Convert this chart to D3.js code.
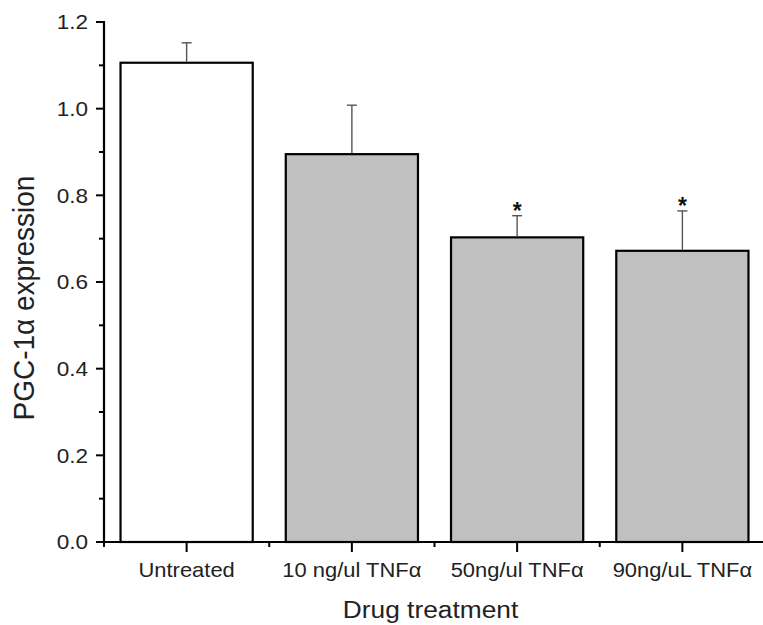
<!DOCTYPE html>
<html>
<head>
<meta charset="utf-8">
<script src="https://cdn.jsdelivr.net/npm/d3@7"></script>
<style>
  html, body { margin: 0; padding: 0; background: #fff; }
  svg { display: block; font-family: Arial, "Liberation Sans", sans-serif; }
</style>
</head>
<body>
<svg id="chart" width="763" height="625"></svg>
<script>
// ---- data ----
const categories = ["Untreated", "10 ng/ul TNF\u03b1", "50ng/ul TNF\u03b1", "90ng/uL TNF\u03b1"];
const values = [1.106, 0.895, 0.703, 0.672];
const errors = [0.046, 0.113, 0.050, 0.092];
const significant = [false, false, true, true];
const yTicks = [0.0, 0.2, 0.4, 0.6, 0.8, 1.0, 1.2];
const yMinorTicks = [0.1, 0.3, 0.5, 0.7, 0.9, 1.1];
const xLabel = "Drug treatment";
const yLabel = "PGC-1\u03b1 expression";

// ---- layout ----
const svg = d3.select("#chart");
const x = d3.scaleLinear().domain([0, 4]).range([104, 765]);
const y = d3.scaleLinear().domain([0, 1.2]).range([542, 22]);
const barW = 0.8;

// bars
svg.append("g").selectAll("rect").data(values).join("rect")
  .attr("x", (d, i) => x(i + 0.5 - barW / 2))
  .attr("width", (d, i) => x(i + 0.5 + barW / 2) - x(i + 0.5 - barW / 2))
  .attr("y", d => y(d))
  .attr("height", d => y(0) - y(d))
  .attr("fill", (d, i) => i === 0 ? "#ffffff" : "#c0c0c0")
  .attr("stroke", "#000").attr("stroke-width", 2.2);

// error bars
const eg = svg.append("g").attr("stroke", "#555").attr("stroke-width", 1.4);
values.forEach((v, i) => {
  const cx = x(i + 0.5);
  eg.append("line").attr("x1", cx).attr("x2", cx).attr("y1", y(v) - 1).attr("y2", y(v + errors[i]));
  eg.append("line").attr("x1", cx - 5).attr("x2", cx + 5).attr("y1", y(v + errors[i])).attr("y2", y(v + errors[i]));
  if (significant[i]) {
    svg.append("text").attr("x", cx).attr("y", y(v + errors[i]) + 3)
      .attr("text-anchor", "middle").attr("font-size", 23).attr("font-weight", "bold")
      .attr("fill", "#111")
      .text("*");
  }
});

// y axis
const yAxis = svg.append("g").attr("transform", `translate(${x(0)},0)`);
yAxis.append("line").attr("y1", y(0) + 1).attr("y2", y(1.2) - 1).attr("stroke", "#000").attr("stroke-width", 2.2);
yAxis.selectAll(".maj").data(yTicks).join("line")
  .attr("x1", -8).attr("x2", 0).attr("y1", d => y(d)).attr("y2", d => y(d))
  .attr("stroke", "#000").attr("stroke-width", 2);
yAxis.selectAll(".min").data(yMinorTicks).join("line").attr("class", "min")
  .attr("x1", -5).attr("x2", 0).attr("y1", d => y(d)).attr("y2", d => y(d))
  .attr("stroke", "#000").attr("stroke-width", 2);
yAxis.selectAll("text").data(yTicks).join("text")
  .attr("transform", d => `translate(-16,${y(d)}) scale(1.1,1)`)
  .attr("text-anchor", "end").attr("dy", "0.36em")
  .attr("font-size", 20.5).attr("fill", "#222")
  .text(d => d3.format(".1f")(d));

// x axis
const xAxis = svg.append("g").attr("transform", `translate(0,${y(0)})`);
xAxis.append("line").attr("x1", x(0) - 1).attr("x2", 763).attr("stroke", "#000").attr("stroke-width", 2.2);
xAxis.selectAll(".maj").data(categories).join("line").attr("class", "maj")
  .attr("x1", (d, i) => x(i + 0.5)).attr("x2", (d, i) => x(i + 0.5))
  .attr("y1", 0).attr("y2", 10).attr("stroke", "#000").attr("stroke-width", 2);
xAxis.selectAll(".min").data(d3.range(0, categories.length)).join("line").attr("class", "min")
  .attr("x1", d => x(d)).attr("x2", d => x(d))
  .attr("y1", 0).attr("y2", 5).attr("stroke", "#000").attr("stroke-width", 2);
xAxis.selectAll("text").data(categories).join("text")
  .attr("transform", (d, i) => `translate(${x(i + 0.5)},35) scale(1.07,1)`)
  .attr("text-anchor", "middle")
  .attr("font-size", 20.5).attr("fill", "#222")
  .text(d => d);

// axis titles
svg.append("text")
  .attr("transform", `translate(${(x(0) + 763) / 2 - 3},618) scale(1.12,1)`)
  .attr("text-anchor", "middle").attr("font-size", 23.5).attr("fill", "#222")
  .text(xLabel);
svg.append("text")
  .attr("transform", `translate(34,298) rotate(-90) scale(1,1.05)`)
  .attr("text-anchor", "middle").attr("font-size", 28).attr("fill", "#222")
  .text(yLabel);
</script>
</body>
</html>
